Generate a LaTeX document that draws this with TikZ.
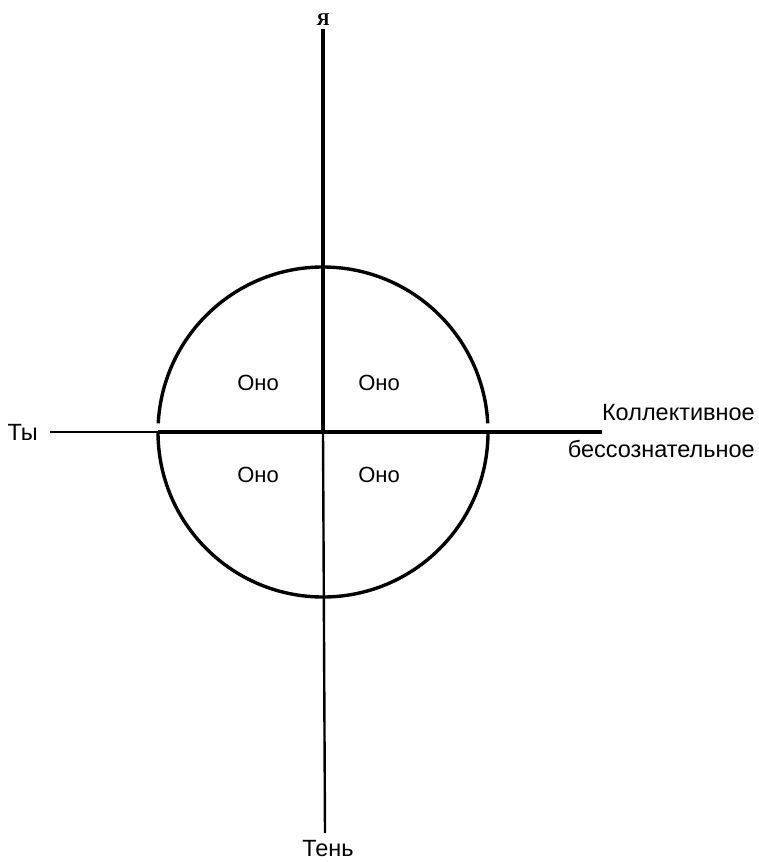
\documentclass[tikz,border=0pt]{standalone}
\usepackage{fontspec}
\setmainfont{Liberation Sans}
\newfontfamily\serifcyr{Liberation Serif}
\begin{document}
\begin{tikzpicture}[
    x=1pt, y=-1pt, % координаты в пикселях, ось y вниз
    axis/.style={draw=black, line width=3.4pt},
    thinaxis/.style={draw=black, line width=2.4pt},
    label/.style={font=\fontsize{23.5}{28}\selectfont, inner sep=0pt}
  ]
    \useasboundingbox (0,0) rectangle (759,862);

    % центр и концы осей
    \coordinate (c) at (323,432);
    \coordinate (top) at (323,29);
    \coordinate (bot) at (325,833);
    \coordinate (lft) at (50,432);
    \coordinate (rgt) at (602,432);

    % подписи осей
    \node[font=\serifcyr\bfseries\fontsize{18}{21}\selectfont, inner sep=0pt] (ya) at (323,20) {Я};
    \node[label, anchor=east] (ty) at (38,432) {Ты};
    \node[label, anchor=north] (ten) at (328,840) {Тень};
    \node[label, anchor=east] (koll) at (755,413) {Коллективное};
    \node[label, anchor=east] (bess) at (755,449) {бессознательное};

    % оси
    \draw[axis] (top) -- (c);
    \draw[thinaxis] (c) -- (bot);
    \draw[thinaxis] (lft) -- (158,432);
    \draw[axis] (158,432) -- (rgt);

    % круг (нижняя половина с зазором у оси)
    \draw[axis] (c) ++(0:165) arc[start angle=0, end angle=180, radius=165];
    \draw[axis] (c) ++(183:165) arc[start angle=183, end angle=357, radius=165];

    % четыре «Оно»
    \foreach \px/\py [count=\i] in {258/383, 379/383, 258/475, 379/475} {
      \node[label, font=\fontsize{22}{26}\selectfont] (ono\i) at (\px,\py) {Оно};
    }
\end{tikzpicture}
\end{document}
